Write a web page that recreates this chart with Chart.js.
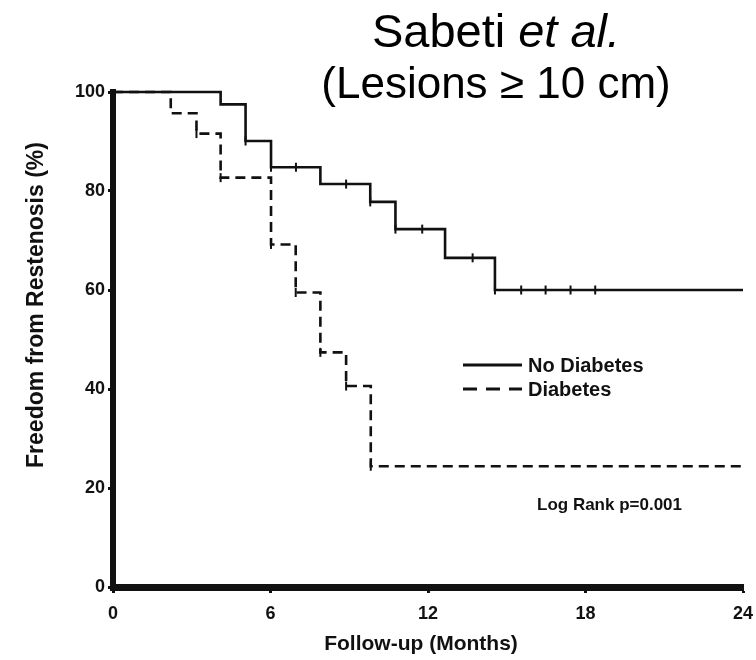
<!DOCTYPE html>
<html lang="en">
<head>
  <meta charset="UTF-8">
  <title>Freedom from Restenosis</title>
  <script src="https://cdn.jsdelivr.net/npm/chart.js@4/dist/chart.umd.min.js"></script>
  <style>
    html, body { margin: 0; padding: 0; background: #fff; }
    .wrap { position: relative; width: 756px; height: 660px; }
  </style>
</head>
<body>
  <div class="wrap">
    <canvas id="km"></canvas>
  </div>

  <script>
    // Kaplan-Meier steps: time of each drop (months) and the level after it
    const noDiabetesTimes = [0, 4.1, 5.05, 6.02, 7.9, 9.8, 10.76, 12.65, 14.55, 24];
    const noDiabetesLevels = [100, 97.5, 90.1, 84.8, 81.4, 77.8, 72.3, 66.5, 60, 60];
    const diabetesTimes = [0, 2.2, 3.18, 4.1, 6.02, 6.96, 7.9, 8.88, 9.82, 24];
    const diabetesLevels = [100, 95.7, 91.6, 82.7, 69.2, 59.5, 47.4, 40.6, 24.4, 24.4];

    // censored observations (tick marks on the curves)
    const noDiabetesCensorTimes = [5.05, 6.02, 6.97, 8.88, 9.8, 10.76, 11.78, 13.7, 14.55, 15.55, 16.48, 17.43, 18.37];
    const noDiabetesCensorLevels = [90.1, 84.8, 84.8, 81.4, 77.8, 72.3, 72.3, 66.5, 60, 60, 60, 60, 60];
    const diabetesCensorTimes = [3.18, 4.1, 6.02, 6.96, 7.9, 8.88, 9.82];
    const diabetesCensorLevels = [91.6, 82.7, 69.2, 59.5, 47.4, 40.6, 24.4];

    const xTicks = [0, 6, 12, 18, 24];
    const yTicks = [0, 20, 40, 60, 80, 100];
    const seriesNames = ["No Diabetes", "Diabetes"];

    const FONT = '"Liberation Sans", Arial, sans-serif';
    const INK = "#111";

    function toPoints(xs, ys) {
      return xs.map((x, i) => ({ x: x, y: ys[i] }));
    }

    // title, in-plot legend, p-value and the two axis titles
    const annotations = {
      id: "annotations",
      afterDraw(chart) {
        const ctx = chart.ctx;
        ctx.save();
        ctx.fillStyle = "#000";
        ctx.textBaseline = "alphabetic";

        // two-line title over the right part of the plot
        const cx = 496;
        ctx.font = "47px " + FONT;
        const w1 = ctx.measureText("Sabeti ").width;
        ctx.font = "italic 47px " + FONT;
        const w2 = ctx.measureText("et al.").width;
        const x0 = cx - (w1 + w2) / 2;
        ctx.textAlign = "left";
        ctx.font = "47px " + FONT;
        ctx.fillText("Sabeti ", x0, 47);
        ctx.font = "italic 47px " + FONT;
        ctx.fillText("et al.", x0 + w1, 47);
        ctx.font = "44px " + FONT;
        ctx.textAlign = "center";
        ctx.fillText("(Lesions \u2265 10 cm)", cx, 98);

        // legend
        const sets = chart.data.datasets;
        const rows = [365, 389];
        ctx.font = "bold 20px " + FONT;
        ctx.textAlign = "left";
        ctx.textBaseline = "middle";
        for (let i = 0; i < 2; i++) {
          ctx.beginPath();
          ctx.strokeStyle = INK;
          ctx.lineWidth = 3;
          ctx.setLineDash(i === 0 ? [] : [14, 9]);
          ctx.moveTo(463, rows[i]);
          ctx.lineTo(522, rows[i]);
          ctx.stroke();
          ctx.fillStyle = INK;
          ctx.fillText(sets[i].label, 528, rows[i] + 1);
        }
        ctx.setLineDash([]);

        ctx.font = "bold 17px " + FONT;
        ctx.fillText("Log Rank p=0.001", 537, 505);

        // x axis title
        ctx.textAlign = "center";
        ctx.font = "bold 21px " + FONT;
        ctx.fillText("Follow-up (Months)", 421, 644);

        // y axis title, rotated
        ctx.translate(37, 305);
        ctx.rotate(-Math.PI / 2);
        ctx.font = "bold 23px " + FONT;
        ctx.fillText("Freedom from Restenosis (%)", 0, 0);
        ctx.restore();
      }
    };

    new Chart(document.getElementById("km"), {
      type: "line",
      data: {
        datasets: [
          {
            label: seriesNames[0],
            data: toPoints(noDiabetesTimes, noDiabetesLevels),
            stepped: "before",
            borderColor: INK,
            borderWidth: 2.6,
            pointRadius: 0,
            fill: false,
            clip: false,
          },
          {
            label: seriesNames[1],
            data: toPoints(diabetesTimes, diabetesLevels),
            stepped: "before",
            borderColor: INK,
            borderWidth: 2.6,
            borderDash: [10, 6],
            pointRadius: 0,
            fill: false,
            clip: false,
          },
          {
            label: "censored",
            type: "scatter",
            data: toPoints(noDiabetesCensorTimes, noDiabetesCensorLevels),
            pointStyle: "line",
            rotation: 90,
            pointRadius: 4.5,
            borderColor: INK,
            borderWidth: 2,
            clip: false,
          },
          {
            label: "censored",
            type: "scatter",
            data: toPoints(diabetesCensorTimes, diabetesCensorLevels),
            pointStyle: "line",
            rotation: 90,
            pointRadius: 4.5,
            borderColor: INK,
            borderWidth: 2,
            clip: false,
          },
        ],
      },
      options: {
        responsive: true,
        maintainAspectRatio: false,
        animation: false,
        layout: { padding: { top: 92, right: 13, left: 0, bottom: 0 } },
        plugins: {
          legend: { display: false },
          tooltip: { enabled: false },
        },
        scales: {
          x: {
            type: "linear",
            min: 0,
            max: 24,
            afterFit(scale) {
              scale.height = 73;
              scale.paddingLeft = 0;
              scale.paddingRight = 0;
            },
            afterBuildTicks(scale) { scale.ticks = xTicks.map(v => ({ value: v })); },
            grid: { drawOnChartArea: false, drawTicks: true, tickLength: 6, tickWidth: 3, tickColor: INK },
            border: { display: true, color: INK, width: 7 },
            ticks: { color: INK, padding: 10, font: { family: FONT, size: 18, weight: "bold" } },
          },
          y: {
            min: 0,
            max: 100,
            afterFit(scale) {
              scale.width = 113;
              scale.paddingTop = 0;
              scale.paddingBottom = 0;
            },
            afterBuildTicks(scale) { scale.ticks = yTicks.map(v => ({ value: v })); },
            grid: { drawOnChartArea: false, drawTicks: true, tickLength: 5, tickWidth: 3, tickColor: INK },
            border: { display: true, color: INK, width: 6 },
            ticks: { color: INK, padding: 3, font: { family: FONT, size: 18, weight: "bold" } },
          },
        },
      },
      plugins: [annotations],
    });
  </script>
</body>
</html>
